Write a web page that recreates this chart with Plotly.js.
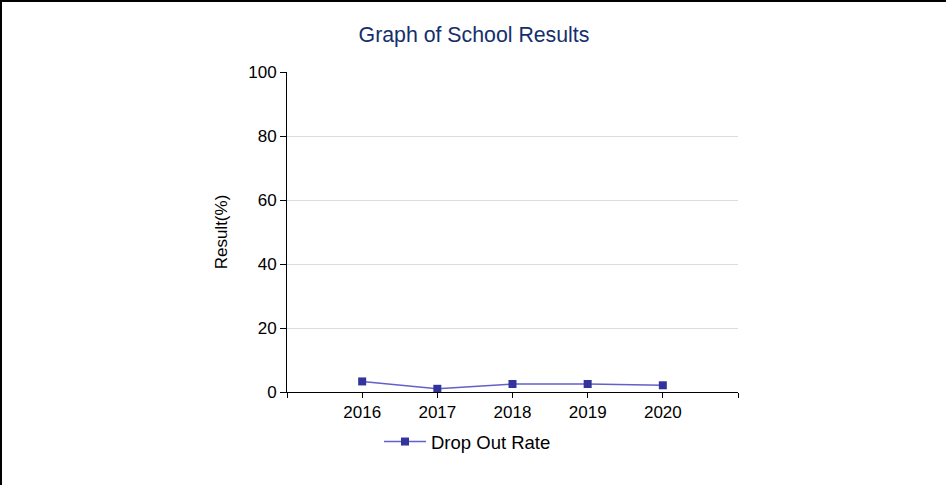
<!DOCTYPE html>
<html>
<head>
<meta charset="utf-8">
<script src="https://cdn.plot.ly/plotly-3.0.1.min.js"></script>
<style>
html,body{margin:0;padding:0;background:#fff;}
#wrap{position:relative;width:946px;height:485px;overflow:hidden;}
#wrap:before{content:"";position:absolute;left:0;top:0;width:946px;height:485px;border-left:2px solid #000;border-top:2px solid #000;box-sizing:border-box;z-index:5;pointer-events:none;}
#chart{width:946px;height:485px;}
</style>
</head>
<body>
<div id="wrap"><div id="chart"></div></div>
<script>
const years = [2016, 2017, 2018, 2019, 2020];
const dropOutRate = [3.3, 1.0, 2.5, 2.5, 2.1];
const xTickVals = [2015, 2016, 2017, 2018, 2019, 2020, 2021];
const xTickText = ["", "2016", "2017", "2018", "2019", "2020", ""];
const yTickVals = [0, 20, 40, 60, 80, 100];

const trace = {
  x: years,
  y: dropOutRate,
  name: "Drop Out Rate",
  type: "scatter",
  mode: "lines+markers",
  line: {color: "#6161c9", width: 1.5},
  marker: {symbol: "square", size: 8, color: "#33339c"}
};

const layout = {
  width: 946, height: 485,
  margin: {l: 287, r: 208, t: 72, b: 93},
  paper_bgcolor: "#ffffff",
  plot_bgcolor: "#ffffff",
  font: {family: "Liberation Sans, Arial, sans-serif", size: 17, color: "#000"},
  title: {
    text: "Graph of School Results",
    font: {family: "Liberation Sans, Arial, sans-serif", size: 21.3, color: "#142f6b"},
    x: 474/946, xref: "container", xanchor: "center",
    y: 1 - 35/485, yref: "container", yanchor: "middle"
  },
  xaxis: {
    range: [2015, 2021],
    tickvals: xTickVals,
    ticktext: xTickText,
    ticks: "outside", ticklen: 5, tickcolor: "#000", tickwidth: 1,
    showline: true, linecolor: "#000", linewidth: 1,
    showgrid: false, zeroline: false,
    tickfont: {size: 17, color: "#000"},
    fixedrange: true
  },
  yaxis: {
    range: [0, 100],
    tickvals: yTickVals,
    ticks: "outside", ticklen: 6, tickcolor: "#000", tickwidth: 1,
    showline: true, linecolor: "#000", linewidth: 1,
    showgrid: true, gridcolor: "#dcdcdc", gridwidth: 1,
    zeroline: false,
    tickfont: {size: 17, color: "#000"},
    title: {text: "Result(%)", font: {size: 17, color: "#000"}, standoff: 16},
    fixedrange: true
  },
  showlegend: true,
  legend: {
    orientation: "h",
    x: 379/946, xref: "container", xanchor: "left",
    y: 1 - 442/485, yref: "container", yanchor: "middle",
    itemwidth: 42,
    font: {size: 18.5, color: "#000"},
    bgcolor: "rgba(0,0,0,0)"
  }
};

Plotly.newPlot("chart", [trace], layout, {displayModeBar: false, staticPlot: true});
</script>
</body>
</html>
